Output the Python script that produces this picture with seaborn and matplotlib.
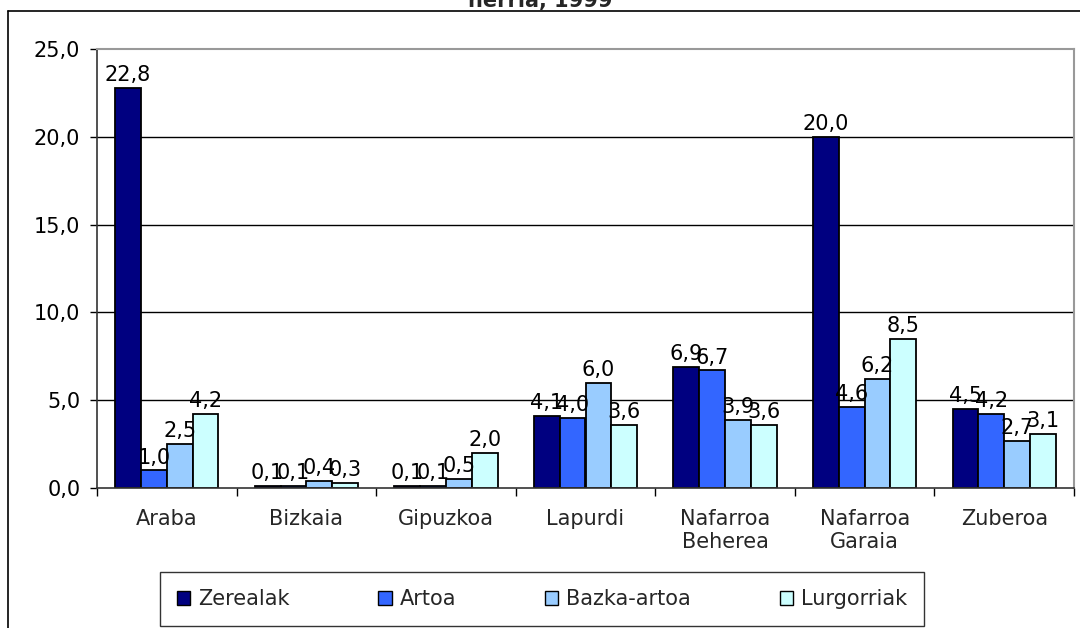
import pandas as pd
import numpy as np
import matplotlib.pyplot as plt
import seaborn as sns
from matplotlib.lines import Line2D
from matplotlib.ticker import FixedLocator, FuncFormatter

regions = ['Araba', 'Bizkaia', 'Gipuzkoa', 'Lapurdi',
           'Nafarroa\nBeherea', 'Nafarroa\nGaraia', 'Zuberoa']
series = ['Zerealak', 'Artoa', 'Bazka-artoa', 'Lurgorriak']
zerealak = [22.8, 0.1, 0.1, 4.1, 6.9, 20.0, 4.5]
artoa = [1.0, 0.1, 0.1, 4.0, 6.7, 4.6, 4.2]
bazka_artoa = [2.5, 0.4, 0.5, 6.0, 3.9, 6.2, 2.7]
lurgorriak = [4.2, 0.3, 2.0, 3.6, 3.6, 8.5, 3.1]
colors = ['#000080', '#3366FF', '#99CCFF', '#CCFFFF']

rows = []
for name, vals in zip(series, [zerealak, artoa, bazka_artoa, lurgorriak]):
    for reg, v in zip(regions, vals):
        rows.append({'region': reg, 'series': name, 'value': v})
df = pd.DataFrame(rows)

sns.set_style('white')
plt.rcParams['font.family'] = ['DejaVu Sans']
FS = 15

fig = plt.figure(figsize=(10.8, 6.28), dpi=100)
ax = fig.add_axes([97 / 1080, 1 - 488 / 628, 977 / 1080, 439 / 628])

sns.barplot(data=df, x='region', y='value', hue='series', palette=colors,
            order=regions, hue_order=series, edgecolor='black', linewidth=1.3,
            width=0.74, gap=0, saturation=1, ax=ax, legend=True)

fmt = lambda v: f'{v:.1f}'.replace('.', ',')
for cont in ax.containers:
    ax.bar_label(cont, labels=[fmt(b.get_height()) for b in cont],
                 padding=2, fontsize=FS, color='black')

ax.set_ylim(0, 25)
ax.set_xlim(-0.5, len(regions) - 0.5)
ax.set_yticks(np.arange(0, 26, 5))
ax.yaxis.set_major_formatter(FuncFormatter(lambda v, p: fmt(v)))
ax.set_xlabel('')
ax.set_ylabel('')
ax.tick_params(axis='y', labelsize=FS, length=5, width=1, direction='out',
               left=True, pad=7, colors='black')
ax.tick_params(axis='x', which='major', labelsize=FS, length=0, pad=15)
ax.xaxis.set_minor_locator(FixedLocator(np.arange(-0.5, len(regions), 1.0)))
ax.tick_params(axis='x', which='minor', length=6, width=1, direction='out',
               bottom=True, color='black')

for y in [5, 10, 15, 20]:
    ax.axhline(y, color='black', linewidth=1, zorder=0)
ax.set_axisbelow(True)

for side in ['top', 'right']:
    ax.spines[side].set_color('#999999')
    ax.spines[side].set_linewidth(1.5)
for side in ['left', 'bottom']:
    ax.spines[side].set_color('#333333')
    ax.spines[side].set_linewidth(1.2)

leg = ax.legend(loc='center', bbox_to_anchor=(542 / 1080, 1 - 599 / 628),
                bbox_transform=fig.transFigure, ncol=4, frameon=True,
                fancybox=False, edgecolor='black', fontsize=FS,
                handlelength=0.65, handleheight=0.65, handletextpad=0.38,
                columnspacing=4.25, borderpad=0.8, borderaxespad=0)
leg.get_frame().set_linewidth(1.0)
for h in leg.legend_handles:
    h.set_edgecolor('black')
    h.set_linewidth(1.0)

# outer chart frame
fig.add_artist(Line2D([8 / 1080, 1.0], [1 - 11 / 628, 1 - 11 / 628],
                      transform=fig.transFigure, color='black', linewidth=1.2))
fig.add_artist(Line2D([8 / 1080, 8 / 1080], [0, 1 - 11 / 628],
                      transform=fig.transFigure, color='black', linewidth=1.2))

fig.text(0.5, 1 - 1 / 628, 'herria, 1999', ha='center', va='center',
         fontsize=FS, fontweight='bold')

fig.savefig('out.png', dpi=100, facecolor='white')
